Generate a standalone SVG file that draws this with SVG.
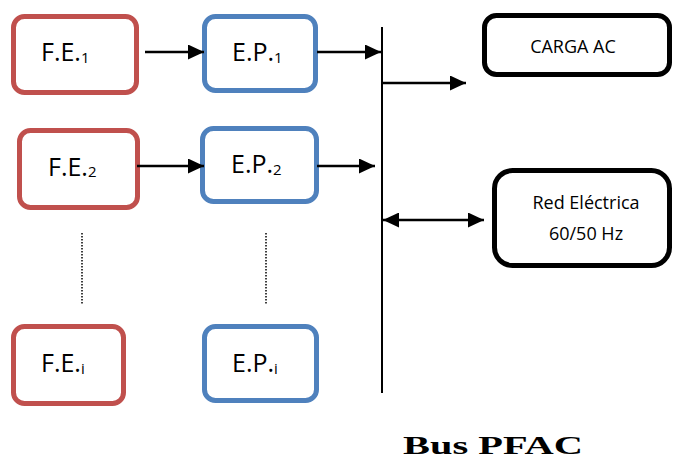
<svg xmlns="http://www.w3.org/2000/svg" width="673" height="459" viewBox="0 0 673 459">
<style>
.fe{fill:#fff;stroke:#C0504D;stroke-width:5}
.ep{fill:#fff;stroke:#4F81BD;stroke-width:5}
.blk{fill:#fff;stroke:#000;stroke-width:5}
.lbl{font-family:"Open Sans","Liberation Sans",sans-serif;font-size:25px;fill:#000}
.sub{font-size:15px}
.sm{font-family:"Open Sans","Liberation Sans",sans-serif;font-size:18px;fill:#000;text-anchor:middle}
.ar{stroke:#000;stroke-width:2.5;fill:none;marker-end:url(#ah)}
.dot{stroke:#000;stroke-width:1.5;stroke-dasharray:1.5 1.5;fill:none}
</style>
<defs>
<marker id="ah" markerUnits="userSpaceOnUse" markerWidth="16" markerHeight="15" refX="16" refY="7.5" orient="auto-start-reverse">
<path d="M0,0 L16,7.5 L0,15 z" fill="#000"/>
</marker>
</defs>
<g id="fe1"><rect class="fe" x="13.5" y="16.5" width="123" height="76" rx="11"/><text class="lbl" x="41" y="61">F.E.<tspan class="sub" dy="2">1</tspan></text></g>
<g id="ep1"><rect class="ep" x="204.5" y="16.5" width="111" height="74" rx="11"/><text class="lbl" x="232" y="61">E.P.<tspan class="sub" dy="2">1</tspan></text></g>
<g id="fe2"><rect class="fe" x="19.5" y="130.5" width="118" height="77" rx="11"/><text class="lbl" x="48" y="176">F.E.<tspan class="sub" dy="1">2</tspan></text></g>
<g id="ep2"><rect class="ep" x="202.5" y="128.5" width="114" height="73" rx="11"/><text class="lbl" x="231" y="173">E.P.<tspan class="sub" dy="2">2</tspan></text></g>
<g id="fei"><rect class="fe" x="13.5" y="326.5" width="110" height="77" rx="11"/><text class="lbl" x="41" y="372">F.E.<tspan class="sub" dy="2">i</tspan></text></g>
<g id="epi"><rect class="ep" x="204.5" y="326.5" width="112" height="74" rx="11"/><text class="lbl" x="232" y="372">E.P.<tspan class="sub" dy="2">i</tspan></text></g>
<g id="carga"><rect class="blk" x="484.5" y="15.5" width="185" height="59" rx="12"/><text class="sm" x="573" y="53">CARGA AC</text></g>
<g id="red"><rect class="blk" x="494.5" y="170.5" width="175" height="95" rx="18"/><text class="sm" x="586" y="209">Red Eléctrica</text><text class="sm" x="586" y="240">60/50 Hz</text></g>
<g id="bus"><line x1="382" y1="27" x2="382" y2="393" stroke="#000" stroke-width="2"/><text x="493" y="454" font-family="Liberation Serif,serif" font-weight="bold" font-size="25" text-anchor="middle" textLength="180" lengthAdjust="spacingAndGlyphs">Bus PFAC</text></g>
<g id="connectors">
<line class="ar" x1="145" y1="52" x2="204" y2="52"/>
<line class="ar" x1="137" y1="166" x2="204" y2="166"/>
<line class="ar" x1="317" y1="52" x2="381" y2="52"/>
<line class="ar" x1="317" y1="166" x2="375" y2="166"/>
<line class="ar" x1="382" y1="83" x2="466" y2="83"/>
<line class="ar" x1="383" y1="220" x2="484" y2="220" style="marker-start:url(#ah)"/>
<line class="dot" x1="82" y1="233" x2="82" y2="305"/>
<line class="dot" x1="266" y1="233" x2="266" y2="304"/>
</g>
</svg>
